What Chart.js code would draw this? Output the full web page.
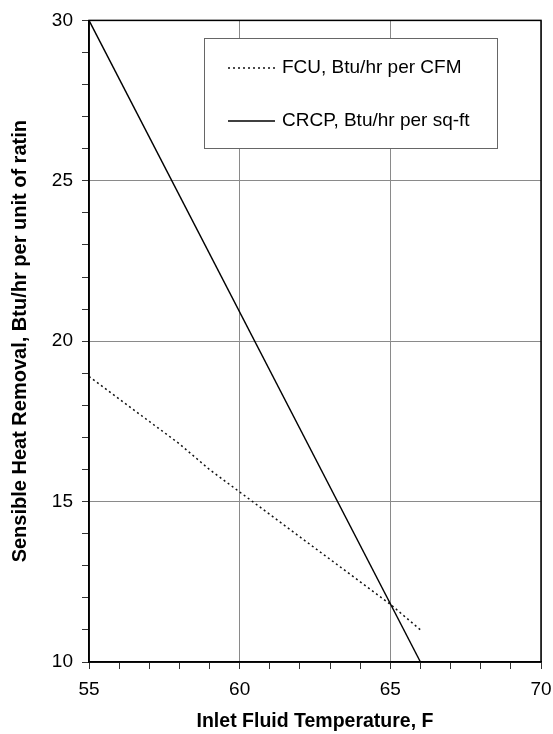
<!DOCTYPE html>
<html>
<head>
<meta charset="utf-8">
<script src="https://cdn.jsdelivr.net/npm/chart.js@4.4.1/dist/chart.umd.min.js"></script>
<style>
html,body{margin:0;padding:0;background:#fff;}
#wrap{width:553px;height:734px;position:relative;}
</style>
</head>
<body>
<div id="wrap"><canvas id="c" width="553" height="734"></canvas></div>
<script>
const temperatures = [55, 56, 57, 58, 59, 60, 61, 62, 63, 64, 65, 66];
const fcuValues = [18.9, 18.2, 17.5, 16.8, 16.0, 15.3, 14.6, 13.9, 13.2, 12.5, 11.8, 11.0];
const crcpTemps = [55, 66];
const crcpValues = [30, 10];
const seriesLabels = ['FCU, Btu/hr per CFM', 'CRCP, Btu/hr per sq-ft'];
const xTitle = 'Inlet Fluid Temperature, F';
const yTitle = 'Sensible Heat Removal, Btu/hr per unit of ratin';

const FONT = '"Liberation Sans", Arial, sans-serif';

const frame = {
  id: 'frame',
  afterDatasetsDraw(chart) {
    const {ctx, chartArea: a} = chart;
    ctx.save();
    ctx.strokeStyle = '#000';
    ctx.lineWidth = 1.5;
    ctx.strokeRect(a.left, a.top, a.right - a.left, a.bottom - a.top);
    // legend box
    const bx = 204, by = 38, bw = 293, bh = 110;
    ctx.fillStyle = '#fff';
    ctx.fillRect(bx, by, bw, bh);
    ctx.strokeStyle = '#666';
    ctx.lineWidth = 1;
    ctx.strokeRect(bx + 0.5, by + 0.5, bw, bh);
    const rows = [68, 121];
    chart.data.datasets.forEach((ds, i) => {
      const y = rows[i];
      ctx.strokeStyle = ds.borderColor;
      ctx.lineWidth = ds.borderWidth;
      ctx.setLineDash(ds.borderDash || []);
      ctx.beginPath();
      ctx.moveTo(228, y);
      ctx.lineTo(275, y);
      ctx.stroke();
      ctx.setLineDash([]);
      ctx.fillStyle = '#000';
      ctx.font = '19px ' + FONT;
      ctx.textBaseline = 'middle';
      ctx.textAlign = 'left';
      ctx.fillText(ds.label, 282, y);
    });
    ctx.restore();
  }
};

new Chart(document.getElementById('c'), {
  type: 'line',
  data: {
    datasets: [
      {
        label: seriesLabels[0],
        data: temperatures.map((t, i) => ({x: t, y: fcuValues[i]})),
        borderColor: '#111',
        borderWidth: 1.5,
        borderDash: [2, 3],
        pointRadius: 0,
        fill: false,
        tension: 0
      },
      {
        label: seriesLabels[1],
        data: crcpTemps.map((t, i) => ({x: t, y: crcpValues[i]})),
        borderColor: '#000',
        borderWidth: 1.4,
        pointRadius: 0,
        fill: false,
        tension: 0
      }
    ]
  },
  options: {
    responsive: false,
    animation: false,
    devicePixelRatio: 1,
    layout: {padding: {left: 0, right: 12, top: 20, bottom: 0}},
    plugins: {legend: {display: false}, tooltip: {enabled: false}},
    scales: {
      x: {
        type: 'linear',
        min: 55, max: 70,
        ticks: {
          stepSize: 1,
          autoSkip: false,
          maxRotation: 0,
          padding: 9,
          color: '#000',
          font: {family: FONT, size: 19},
          callback: v => (v % 5 === 0 ? String(v) : '')
        },
        grid: {
          color: c => (c.tick && c.tick.value % 5 === 0 ? '#8a8a8a' : 'rgba(0,0,0,0)'),
          lineWidth: 1,
          tickColor: '#333',
          tickLength: 7,
          drawTicks: true
        },
        border: {display: true, color: '#000', width: 1.5},
        title: {
          display: true,
          text: xTitle,
          color: '#000',
          font: {family: FONT, size: 19.5, weight: 'bold'},
          padding: {top: 0, bottom: 1}
        },
        afterFit: s => { s.height = 72; s.paddingRight = 0; s.paddingLeft = 0; }
      },
      y: {
        type: 'linear',
        min: 10, max: 30,
        ticks: {
          stepSize: 1,
          autoSkip: false,
          padding: 9,
          color: '#000',
          font: {family: FONT, size: 19},
          callback: v => (v % 5 === 0 ? String(v) : '')
        },
        grid: {
          color: c => (c.tick && c.tick.value % 5 === 0 ? '#8a8a8a' : 'rgba(0,0,0,0)'),
          lineWidth: 1,
          tickColor: '#333',
          tickLength: 7,
          drawTicks: true
        },
        border: {display: true, color: '#000', width: 1.5},
        title: {
          display: true,
          text: yTitle,
          color: '#000',
          font: {family: FONT, size: 20, weight: 'bold'},
          padding: {top: 8, bottom: 0}
        },
        afterFit: s => { s.width = 89; }
      }
    }
  },
  plugins: [frame]
});
</script>
</body>
</html>
